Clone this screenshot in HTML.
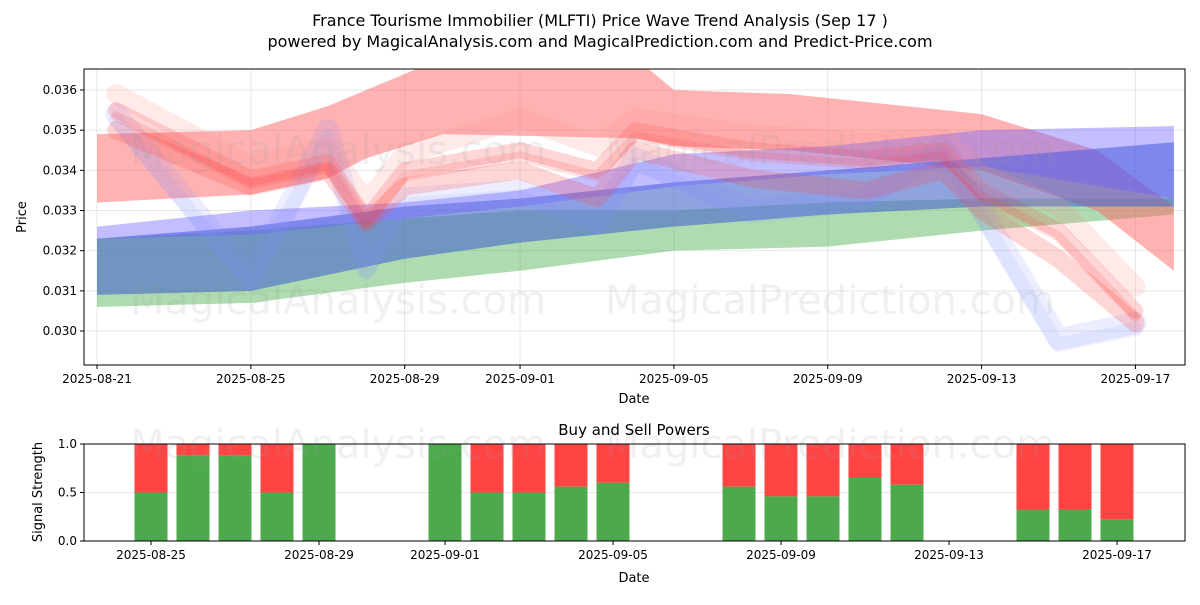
<!DOCTYPE html>
<html><head><meta charset="utf-8">
<style>
body{margin:0;background:#fff;font-family:"Liberation Sans","DejaVu Sans",sans-serif;}
svg text{font-family:"DejaVu Sans","Liberation Sans",sans-serif;}
</style></head>
<body>
<svg id="chart" width="1200" height="600" viewBox="0 0 1200 600" xmlns="http://www.w3.org/2000/svg">
<text x="600" y="26" font-size="16" text-anchor="middle">France Tourisme Immobilier (MLFTI) Price Wave Trend Analysis (Sep 17 )</text>
<text x="600" y="47" font-size="16" text-anchor="middle">powered by MagicalAnalysis.com and MagicalPrediction.com and Predict-Price.com</text>
<g id="main"></g>
<g id="lower"></g>
</svg>
<script>
// ---------- main chart data (day offsets from 2025-08-21) ----------
const bandDays = [0, 4, 8, 11, 15, 19, 23, 28];
const greenLow  = [0.0306,0.0307,0.0312,0.0315,0.0320,0.0321,0.0325,0.0329];
const greenHigh = [0.0323,0.0325,0.0328,0.0330,0.0330,0.0332,0.0333,0.0333];
const blueLow   = [0.0309,0.0310,0.0318,0.0322,0.0326,0.0329,0.0331,0.0331];
const blueHigh  = [0.0323,0.0326,0.0331,0.0333,0.0337,0.0340,0.0343,0.0347];
const purpleLow = [0.0323,0.0324,0.0328,0.0331,0.0336,0.0339,0.0341,0.0333];
const purpleHigh= [0.0326,0.0330,0.0332,0.0335,0.0344,0.0346,0.0350,0.0351];
const redDays  = [0, 4, 6, 7, 9, 14, 15, 18, 23, 26, 28];
const redLow   = [0.0332,0.0334,0.0338,0.0343,0.0349,0.0348,0.0346,0.0345,0.0340,0.0330,0.0315];
const redHigh  = [0.0349,0.0350,0.0356,0.0360,0.0368,0.0368,0.0360,0.0359,0.0354,0.0345,0.0331];
const waveDays = [0.5, 4, 6, 7, 8, 11, 13, 14, 17, 20, 22, 23, 25, 27];
const waveRed1 = [0.0355,0.0338,0.0342,0.0328,0.0340,0.0345,0.0340,0.0350,0.0345,0.0343,0.0345,0.0335,0.0325,0.0305];
const waveRed2 = [0.0350,0.0336,0.0340,0.0327,0.0336,0.0340,0.0333,0.0345,0.0338,0.0335,0.0340,0.0330,0.0318,0.0302];
const waveRed3 = [0.0358,0.0340,0.0345,0.0331,0.0343,0.0352,0.0345,0.0352,0.0348,0.0346,0.0347,0.0338,0.0330,0.0310];
const waveBlue1= [0.0354,0.0313,0.0350,0.0316,0.0333,0.0335,0.0327,0.0343,0.0330,0.0333,0.0346,0.0330,0.0298,0.0302];
const xTickLabels = ["2025-08-21","2025-08-25","2025-08-29","2025-09-01","2025-09-05","2025-09-09","2025-09-13","2025-09-17"];
const xTickDays = [0,4,8,11,15,19,23,27];
const yTicks = [0.030,0.031,0.032,0.033,0.034,0.035,0.036];
// ---------- lower chart data (day offsets from 2025-08-25) ----------
const barDays  = [0,1,2,3,4,7,8,9,10,11,14,15,16,17,18,21,22,23];
const buyPower = [0.5,0.88,0.88,0.5,1.0,1.0,0.5,0.5,0.56,0.6,0.56,0.46,0.46,0.65,0.58,0.33,0.33,0.22];
const lowTickLabels = ["2025-08-25","2025-08-29","2025-09-01","2025-09-05","2025-09-09","2025-09-13","2025-09-17"];
const lowTickDays = [0,4,7,11,15,19,23];

const NS="http://www.w3.org/2000/svg";
function mk(parent,tag,attrs){const e=document.createElementNS(NS,tag);for(const k in attrs)e.setAttribute(k,attrs[k]);parent.appendChild(e);return e;}
const main=document.getElementById('main'), lower=document.getElementById('lower');
const X=d=>97+d*38.46, Y=v=>90+(0.036-v)*40170;
const L={x0:84,x1:1185,y0:69,y1:365};
xTickDays.forEach((d,i)=>{
  mk(main,'line',{x1:X(d),x2:X(d),y1:L.y0,y2:L.y1,stroke:'#b0b0b0','stroke-opacity':0.3});
  mk(main,'line',{x1:X(d),x2:X(d),y1:L.y1,y2:L.y1+4,stroke:'#000'});
  const t=mk(main,'text',{x:X(d),y:L.y1+18,'font-size':12,'text-anchor':'middle'});t.textContent=xTickLabels[i];
  
  
});
yTicks.forEach(v=>{
  mk(main,'line',{x1:L.x0,x2:L.x1,y1:Y(v),y2:Y(v),stroke:'#b0b0b0','stroke-opacity':0.3});
  mk(main,'line',{x1:L.x0-4,x2:L.x0,y1:Y(v),y2:Y(v),stroke:'#000'});
  const t=mk(main,'text',{x:L.x0-7,y:Y(v)+4,'font-size':12,'text-anchor':'end'});t.textContent=v.toFixed(3);
  
  
});
const cp=mk(main,'clipPath',{id:'cp'});mk(cp,'rect',{x:L.x0,y:L.y0,width:L.x1-L.x0,height:L.y1-L.y0});
const g=mk(main,'g',{'clip-path':'url(#cp)'});
function band(days,lo,hi,color,op,name){
  let p=days.map((d,i)=>X(d)+','+Y(hi[i]));
  p=p.concat(days.map((d,i)=>X(d)+','+Y(lo[i])).reverse());
  const e=mk(g,'polygon',{points:p.join(' '),fill:color,'fill-opacity':op});
  
  
}
function wave(vals,color,op,w,off,name){
  const e=mk(g,'polyline',{points:waveDays.map((d,i)=>X(d)+','+(Y(vals[i])+off)).join(' '),fill:'none',stroke:color,'stroke-opacity':op,'stroke-width':w,'stroke-linejoin':'round','stroke-linecap':'round'});
  
  
}
band(bandDays,greenLow,greenHigh,'#4caf50',0.45,'green-band');
band(redDays,redLow,redHigh,'#ff6666',0.5,'red-band');
band(bandDays,blueLow,blueHigh,'#4466cc',0.6,'blue-band');
band(bandDays,purpleLow,purpleHigh,'#6a5cff',0.4,'purple-band');
wave(waveBlue1,'#8090ff',0.15,22,0,'blue-wave');
wave(waveBlue1,'#8090ff',0.12,14,6,'blue-wave');
wave(waveRed2,'#ff4444',0.22,18,0,'red-wave');
wave(waveRed1,'#ff4444',0.22,16,0,'red-wave');
wave(waveRed3,'#ff8888',0.18,20,-4,'red-wave');
wave(waveRed1,'#ff3333',0.15,10,6,'red-wave');
[[130,150,'MagicalAnalysis.com'],[605,150,'MagicalPrediction.com'],[130,300,'MagicalAnalysis.com'],[605,300,'MagicalPrediction.com']].forEach(w=>{
  const t=mk(main,'text',{x:w[0],y:w[1]+14,'font-size':40,fill:'#999','fill-opacity':0.15});t.textContent=w[2];
  
  
});
mk(main,'rect',{x:L.x0,y:L.y0,width:L.x1-L.x0,height:L.y1-L.y0,fill:'none',stroke:'#000'});
let t=mk(main,'text',{x:634,y:403,'font-size':13,'text-anchor':'middle'});t.textContent='Date';

t=mk(main,'text',{x:26,y:217,'font-size':13,'text-anchor':'middle',transform:'rotate(-90 26 217)'});t.textContent='Price';


// ---------- lower chart ----------
const B={x0:84,x1:1185,y0:444,y1:541};
const BX=d=>151+d*42, BY=v=>B.y1-v*(B.y1-B.y0);
mk(lower,'line',{x1:B.x0,x2:B.x1,y1:BY(0.5),y2:BY(0.5),stroke:'#b0b0b0','stroke-opacity':0.3});
barDays.forEach((d,i)=>{
  const r=mk(lower,'rect',{x:BX(d)-16.5,y:B.y0,width:33,height:BY(buyPower[i])-B.y0,fill:'#ff4444'});
  
  
  const gr=mk(lower,'rect',{x:BX(d)-16.5,y:BY(buyPower[i]),width:33,height:B.y1-BY(buyPower[i]),fill:'#4caa4c'});
  
  
});
[[130,444,'MagicalAnalysis.com'],[605,444,'MagicalPrediction.com']].forEach(w=>{
  const t=mk(lower,'text',{x:w[0],y:w[1]+14,'font-size':40,fill:'#999','fill-opacity':0.15});t.textContent=w[2];
  
  
});
lowTickDays.forEach((d,i)=>{
  mk(lower,'line',{x1:BX(d),x2:BX(d),y1:B.y1,y2:B.y1+4,stroke:'#000'});
  const t=mk(lower,'text',{x:BX(d),y:B.y1+18,'font-size':12,'text-anchor':'middle'});t.textContent=lowTickLabels[i];
  
  
});
[0,0.5,1].forEach(v=>{
  mk(lower,'line',{x1:B.x0-4,x2:B.x0,y1:BY(v),y2:BY(v),stroke:'#000'});
  const t=mk(lower,'text',{x:B.x0-7,y:BY(v)+4,'font-size':12,'text-anchor':'end'});t.textContent=v.toFixed(1);
  
  
});
mk(lower,'rect',{x:B.x0,y:B.y0,width:B.x1-B.x0,height:B.y1-B.y0,fill:'none',stroke:'#000'});
t=mk(lower,'text',{x:634,y:435,'font-size':15,'text-anchor':'middle'});t.textContent='Buy and Sell Powers';

t=mk(lower,'text',{x:634,y:582,'font-size':13,'text-anchor':'middle'});t.textContent='Date';

t=mk(lower,'text',{x:42,y:492,'font-size':13,'text-anchor':'middle',transform:'rotate(-90 42 492)'});t.textContent='Signal Strength';

</script>
</body></html>
